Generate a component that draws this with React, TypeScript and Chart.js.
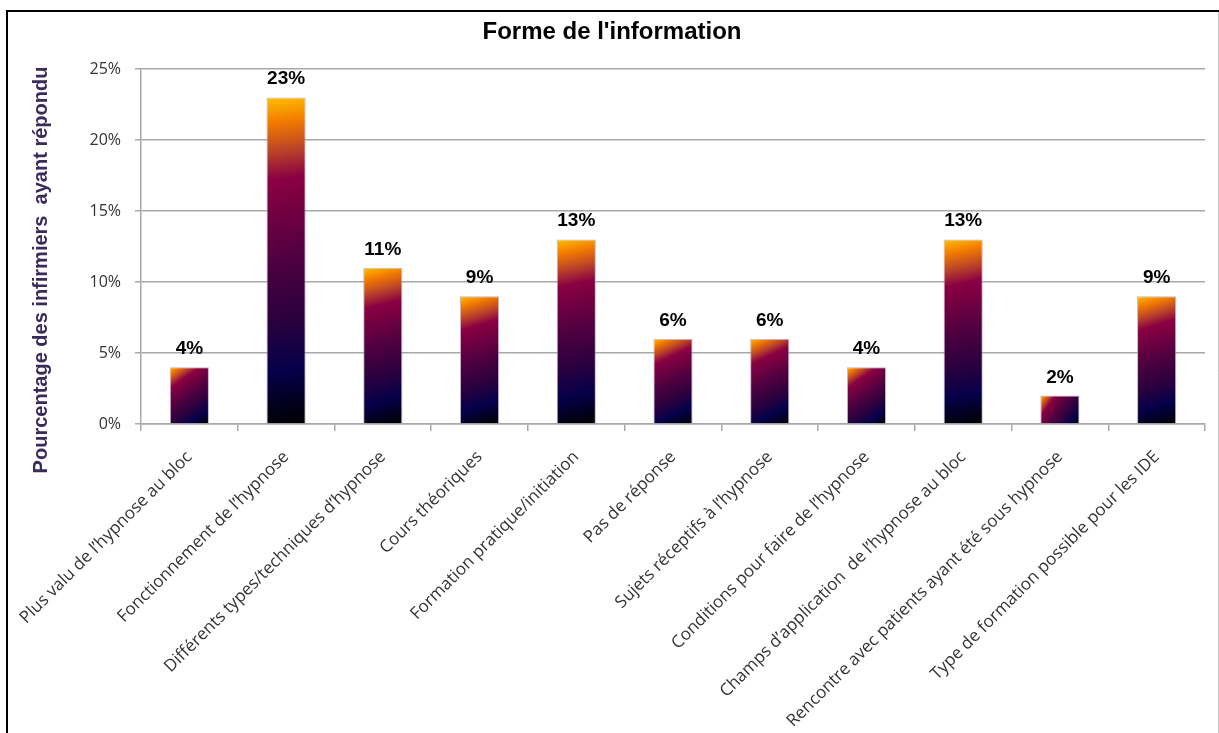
import React, { useEffect, useRef } from "react";
import { Chart, registerables } from "chart.js";

Chart.register(...registerables);

const chartTitle = "Forme de l'information";
const yAxisTitle = "Pourcentage des infirmiers  ayant répondu";
const categories = [
  "Plus valu de l\u2019hypnose au bloc",
  "Fonctionnement de l\u2019hypnose",
  "Diff\u00e9rents types/techniques d\u2019hypnose",
  "Cours th\u00e9oriques",
  "Formation pratique/initiation",
  "Pas de r\u00e9ponse",
  "Sujets r\u00e9ceptifs \u00e0 l\u2019hypnose",
  "Conditions pour faire de l\u2019hypnose",
  "Champs d\u2019application  de l\u2019hypnose au bloc",
  "Rencontre avec patients ayant \u00e9t\u00e9 sous hypnose",
  "Type de formation possible pour les IDE",
];
const values = [4, 23, 11, 9, 13, 6, 6, 4, 13, 2, 9];
const yMin = 0;
const yMax = 25;
const yStep = 5;

const gradientStops: [number, string][] = [
  [0, "#ffc000"],
  [0.08, "#f27a00"],
  [0.17, "#b8402a"],
  [0.25, "#8a0042"],
  [0.5, "#4e0040"],
  [0.68, "#2a003e"],
  [0.83, "#05004a"],
  [1, "#000000"],
];

const BAR_PCT = 0.405;
const W = 1219;
const H = 733;

export default function App() {
  const ref = useRef<HTMLCanvasElement | null>(null);

  useEffect(() => {
    const canvas = ref.current;
    if (!canvas) return;

    const decorPlugin = {
      id: "decor",
      beforeDraw(chart: any) {
        const ctx = chart.ctx;
        ctx.save();
        ctx.fillStyle = "#ffffff";
        ctx.fillRect(0, 0, W, H);
        ctx.restore();
      },
      afterDraw(chart: any) {
        const ctx = chart.ctx;
        ctx.save();
        // frame
        ctx.strokeStyle = "#000000";
        ctx.lineWidth = 2;
        ctx.beginPath();
        ctx.moveTo(7, H + 5);
        ctx.lineTo(7, 11);
        ctx.lineTo(W + 5, 11);
        ctx.stroke();
        ctx.strokeStyle = "#c8c8c8";
        ctx.lineWidth = 1;
        ctx.beginPath();
        ctx.moveTo(1218.5, 12);
        ctx.lineTo(1218.5, H);
        ctx.stroke();
        // title
        ctx.fillStyle = "#000000";
        ctx.font = "bold 24px 'Liberation Sans', Arial, sans-serif";
        ctx.textAlign = "center";
        ctx.textBaseline = "alphabetic";
        ctx.fillText(chartTitle, 612, 39);
        // y axis title
        ctx.save();
        ctx.translate(47, 270);
        ctx.rotate(-Math.PI / 2);
        ctx.fillStyle = "#3b2b5b";
        ctx.font = "bold 20px 'Liberation Sans', Arial, sans-serif";
        ctx.textAlign = "center";
        ctx.textBaseline = "alphabetic";
        ctx.fillText(yAxisTitle, 0, 0);
        ctx.restore();
        // data labels
        const meta = chart.getDatasetMeta(0);
        ctx.fillStyle = "#000000";
        ctx.font = "bold 19px 'Liberation Sans', Arial, sans-serif";
        ctx.textAlign = "center";
        ctx.textBaseline = "alphabetic";
        meta.data.forEach((el: any, i: number) => {
          ctx.fillText(values[i] + "%", el.x, el.y - 13);
        });
        ctx.restore();
      },
    };

    const chart = new Chart(canvas, {
      type: "bar",
      data: {
        labels: categories,
        datasets: [
          {
            data: values,
            backgroundColor: (c: any) => {
              const ch = c.chart;
              const xs = ch.scales?.x;
              const ys = ch.scales?.y;
              if (!xs || !ys || !ch.chartArea) return "#4e0040";
              const i = c.dataIndex;
              const cx = xs.getPixelForValue(i);
              const catW = (xs.right - xs.left) / categories.length;
              const bw = catW * BAR_PCT;
              const left = cx - bw / 2;
              const right = cx + bw / 2;
              const top = ys.getPixelForValue(values[i]);
              const bottom = ys.getPixelForValue(0);
              if (!isFinite(left + right + top + bottom)) return "#4e0040";
              const g = ch.ctx.createLinearGradient(left, top, right, bottom);
              gradientStops.forEach(([o, col]) => g.addColorStop(o, col));
              return g;
            },
            borderWidth: 1,
            borderColor: "rgba(170,160,185,0.75)",
            barPercentage: BAR_PCT,
            categoryPercentage: 1,
          },
        ],
      },
      options: {
        responsive: false,
        animation: false,
        devicePixelRatio: 1,
        layout: { padding: { top: 69, right: 14, left: 0, bottom: 0 } },
        plugins: {
          legend: { display: false },
          title: { display: false },
          tooltip: { enabled: false },
        },
        scales: {
          x: {
            grid: {
              display: true,
              drawOnChartArea: false,
              drawTicks: true,
              tickLength: 7,
              color: "#a8a8a8",
              lineWidth: 1.5,
              offset: true,
            },
            border: { display: true, color: "#a8a8a8", width: 1.5 },
            ticks: {
              autoSkip: false,
              maxRotation: 45,
              minRotation: 45,
              color: "#333333",
              padding: 16,
              font: { family: "'Open Sans', sans-serif", size: 17 },
            },
            afterFit: (s: any) => {
              s.height = H - 424;
            },
          },
          y: {
            min: yMin,
            max: yMax,
            ticks: {
              stepSize: yStep,
              color: "#333333",
              padding: 14,
              font: { family: "'Open Sans', sans-serif", size: 16 },
              callback: (v: any) => v + "%",
            },
            grid: {
              color: "#a8a8a8",
              lineWidth: 1.5,
              tickLength: 6,
            },
            border: { display: true, color: "#a8a8a8", width: 1.5 },
            afterFit: (s: any) => {
              s.width = 141;
            },
          },
        },
      },
      plugins: [decorPlugin],
    });

    return () => chart.destroy();
  }, []);

  return (
    <div style={{ position: "absolute", left: 0, top: 0, width: W, height: H }}>
      <canvas ref={ref} width={W} height={H} style={{ width: W, height: H, display: "block" }} />
    </div>
  );
}
